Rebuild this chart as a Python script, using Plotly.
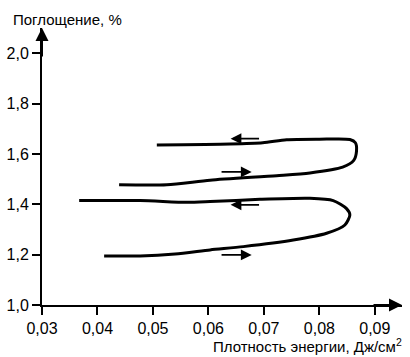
import plotly.graph_objects as go

# Data
lower_x = [0.0412, 0.0477, 0.0540, 0.0603, 0.0663, 0.0753, 0.0813, 0.0846, 0.0855, 0.0849, 0.0825, 0.0783, 0.0693, 0.0603, 0.0561, 0.0477, 0.0367]
lower_y = [1.195, 1.195, 1.203, 1.219, 1.232, 1.258, 1.285, 1.318, 1.358, 1.383, 1.415, 1.424, 1.420, 1.411, 1.408, 1.415, 1.415]

upper_x = [0.0439, 0.0525, 0.0603, 0.0723, 0.0783, 0.0842, 0.0862, 0.0867, 0.0865, 0.0855, 0.0800, 0.0741, 0.0698, 0.0639, 0.0507]
upper_y = [1.478, 1.478, 1.496, 1.514, 1.525, 1.548, 1.575, 1.612, 1.645, 1.658, 1.659, 1.657, 1.645, 1.640, 1.636]

# direction arrows: tail -> head
arrow_tail_x = [0.0694, 0.0621, 0.0694, 0.0621]
arrow_tail_y = [1.661, 1.529, 1.398, 1.199]
arrow_head_x = [0.0640, 0.0678, 0.0640, 0.0678]
arrow_head_y = [1.661, 1.529, 1.398, 1.199]

x_ticks = [0.03, 0.04, 0.05, 0.06, 0.07, 0.08, 0.09]
x_ticklabels = ["0,03", "0,04", "0,05", "0,06", "0,07", "0,08", "0,09"]
y_ticks = [1.0, 1.2, 1.4, 1.6, 1.8, 2.0]
y_ticklabels = ["1,0", "1,2", "1,4", "1,6", "1,8", "2,0"]

y_title = "Поглощение, %"
x_title = "Плотность энергии, Дж/см<sup>2</sup>"

font_family = "Liberation Sans, Arial, sans-serif"

fig = go.Figure()
for xs, ys in [(lower_x, lower_y), (upper_x, upper_y)]:
    fig.add_trace(go.Scatter(x=xs, y=ys, mode="lines",
                             line=dict(color="black", width=3, shape="spline", smoothing=0.7),
                             showlegend=False, hoverinfo="skip"))

annotations = []
for tx, ty, hx, hy in zip(arrow_tail_x, arrow_tail_y, arrow_head_x, arrow_head_y):
    annotations.append(dict(x=hx, y=hy, ax=tx, ay=ty, xref="x", yref="y", axref="x", ayref="y",
                            showarrow=True, arrowhead=2, arrowsize=1.2, arrowwidth=1.8,
                            arrowcolor="black", text=""))

# axis arrowheads
annotations.append(dict(x=1, y=0, xref="paper", yref="paper", ax=-30, ay=0,
                        showarrow=True, arrowhead=2, arrowsize=1.3, arrowwidth=2,
                        arrowcolor="black", text="", standoff=0))
annotations.append(dict(x=0, y=1, xref="paper", yref="paper", ax=0, ay=30,
                        showarrow=True, arrowhead=2, arrowsize=1.3, arrowwidth=2,
                        arrowcolor="black", text="", standoff=0))

annotations.append(dict(x=0, y=1, xref="paper", yref="paper", text=y_title, showarrow=False,
                        xanchor="left", yanchor="middle", xshift=-31, yshift=9,
                        font=dict(size=15, family=font_family, color="black")))
annotations.append(dict(x=1, y=0, xref="paper", yref="paper", text=x_title, showarrow=False,
                        xanchor="right", yanchor="middle", yshift=-40, xshift=2,
                        font=dict(size=15, family=font_family, color="black")))

fig.update_layout(
    width=410, height=357,
    margin=dict(l=42, r=8, t=28, b=52),
    plot_bgcolor="white", paper_bgcolor="white",
    font=dict(family=font_family, size=16, color="black"),
    annotations=annotations,
    xaxis=dict(range=[0.03, 0.0949], tickvals=x_ticks, ticktext=x_ticklabels,
               showline=True, linecolor="black", linewidth=2, showgrid=False, zeroline=False,
               ticks="outside", ticklen=8, tickwidth=2, tickcolor="black"),
    yaxis=dict(range=[1.0, 2.101], tickvals=y_ticks, ticktext=y_ticklabels,
               showline=True, linecolor="black", linewidth=2, showgrid=False, zeroline=False,
               ticks="outside", ticklen=8, tickwidth=2, tickcolor="black"),
)

fig.write_html("out.html", config={"displayModeBar": False},
               post_script="document.body.style.margin='0';")
